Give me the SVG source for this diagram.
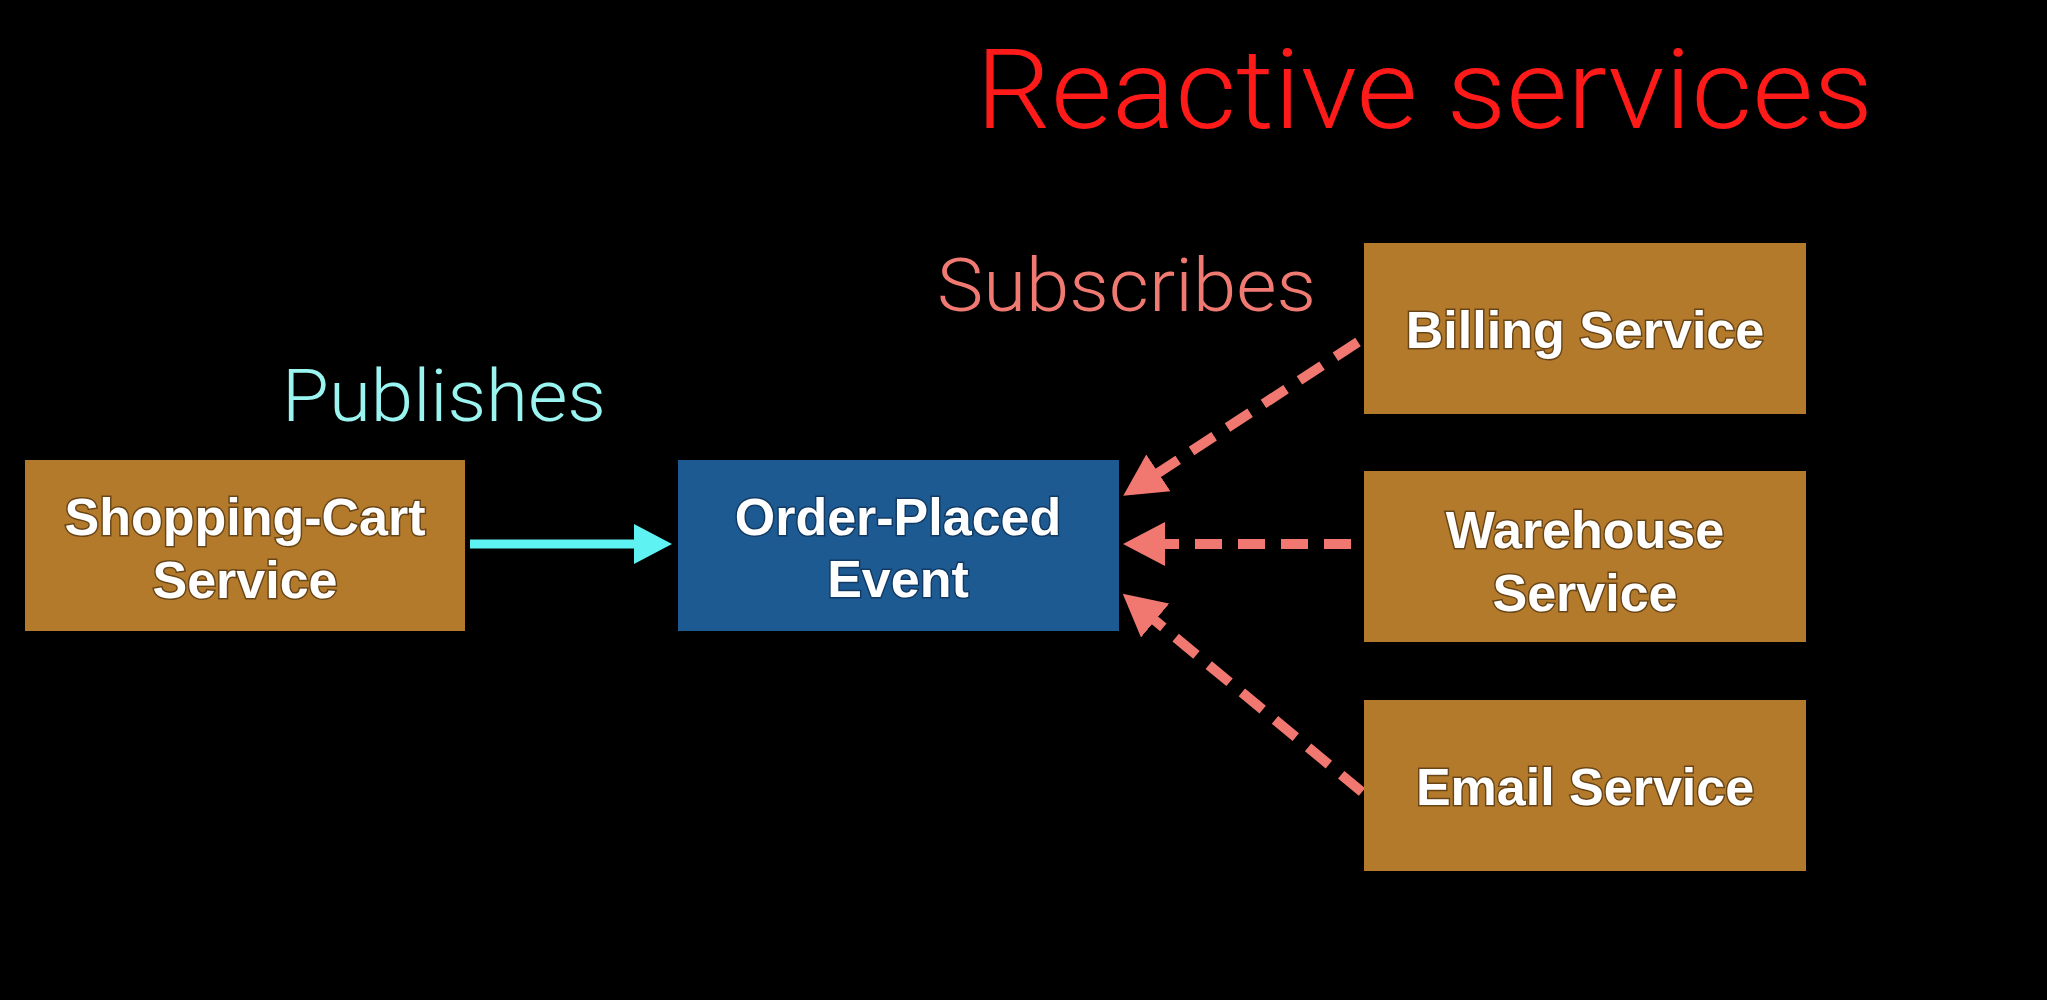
<svg xmlns="http://www.w3.org/2000/svg" width="2047" height="1000" viewBox="0 0 2047 1000">
  <style>
    .svc { fill: #b47a2c; }
    .evt { fill: #1e5a92; }
    .lbl { font-family: "Liberation Sans", Arial, sans-serif; font-weight: bold; font-size: 52px; fill: #ffffff; text-anchor: middle; stroke: #2a1a05; stroke-opacity: 0.55; stroke-width: 3px; paint-order: stroke; }
    .evt-lbl { stroke: #06213d; }
    .thin { font-family: "Roboto", "Liberation Sans", Arial, sans-serif; font-weight: 300; }
    .sub { stroke: #f07870; stroke-width: 10; stroke-dasharray: 27 16; fill: none; }
    .pub { stroke: #5ff2f2; stroke-width: 9; fill: none; }
  </style>
  <defs>
    <!-- heads are anchored near their base so the shaft stops inside the head -->
    <marker id="headSub" markerUnits="userSpaceOnUse" markerWidth="44" markerHeight="46" viewBox="0 -23 44 46" refX="4" refY="0" orient="auto">
      <path d="M0,-22 L42,0 L0,22 z" fill="#f07870"/>
    </marker>
    <marker id="headPub" markerUnits="userSpaceOnUse" markerWidth="40" markerHeight="42" viewBox="0 -21 40 42" refX="4" refY="0" orient="auto">
      <path d="M0,-20 L38,0 L0,20 z" fill="#5ff2f2"/>
    </marker>
  </defs>

  <rect x="0" y="0" width="2047" height="1000" fill="#000000"/>

  <!-- heading and edge captions -->
  <text class="thin" x="976" y="128" font-size="111" fill="#ff1a1a" textLength="897" lengthAdjust="spacingAndGlyphs">Reactive services</text>
  <text class="thin" x="937" y="311" font-size="74" fill="#f07a72" textLength="379" lengthAdjust="spacingAndGlyphs">Subscribes</text>
  <text class="thin" x="282" y="421" font-size="73" fill="#9af4f0" textLength="324" lengthAdjust="spacingAndGlyphs">Publishes</text>

  <!-- connectors -->
  <g id="connectors">
    <line class="pub" x1="470" y1="544" x2="638" y2="544" marker-end="url(#headPub)"/>
    <line class="sub" x1="1358" y1="342" x2="1155" y2="475" marker-end="url(#headSub)"/>
    <line class="sub" x1="1351" y1="544" x2="1161" y2="544" marker-end="url(#headSub)"/>
    <line class="sub" x1="1362" y1="792" x2="1152" y2="618" marker-end="url(#headSub)"/>
  </g>

  <!-- nodes -->
  <g id="shopping-cart">
    <rect class="svc" x="25" y="460" width="440" height="171"/>
    <text class="lbl" x="245" y="535">Shopping-Cart</text>
    <text class="lbl" x="245" y="598">Service</text>
  </g>

  <g id="order-placed">
    <rect class="evt" x="678" y="460" width="441" height="171"/>
    <text class="lbl evt-lbl" x="898" y="535">Order-Placed</text>
    <text class="lbl evt-lbl" x="898" y="597">Event</text>
  </g>

  <g id="billing">
    <rect class="svc" x="1364" y="243" width="442" height="171"/>
    <text class="lbl" x="1585" y="348">Billing Service</text>
  </g>

  <g id="warehouse">
    <rect class="svc" x="1364" y="471" width="442" height="171"/>
    <text class="lbl" x="1585" y="548">Warehouse</text>
    <text class="lbl" x="1585" y="611">Service</text>
  </g>

  <g id="email">
    <rect class="svc" x="1364" y="700" width="442" height="171"/>
    <text class="lbl" x="1585" y="805">Email Service</text>
  </g>
</svg>
